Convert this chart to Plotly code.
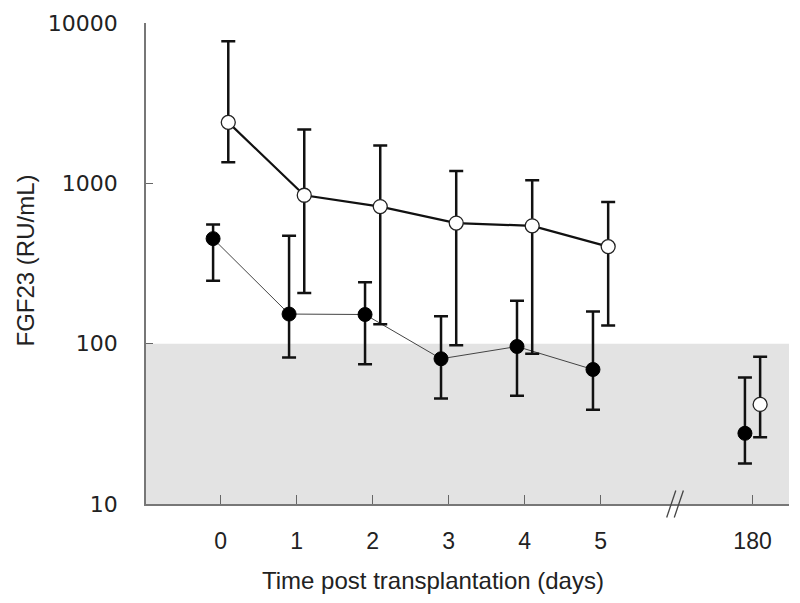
import math
import plotly.graph_objects as go

# ---- data ----
day_labels = ["0", "1", "2", "3", "4", "5", "180"]
positions = [0, 1, 2, 3, 4, 5, 7]  # 180 placed after an axis break

filled_mean = [452, 153, 152, 80.5, 96, 69, 27.6]
filled_upper = [553, 471, 242, 148, 185, 159, 61.5]
filled_lower = [247, 82, 74.5, 45.5, 47.3, 38.7, 17.9]

open_mean = [2400, 843, 716, 565, 543, 403, 41.8]
open_upper = [7700, 2170, 1720, 1192, 1045, 766, 83]
open_lower = [1355, 207, 132, 97.6, 86.5, 130, 26.1]

y_ticks = [10, 100, 1000, 10000]
y_ticktext = ["10", "100", "1000", "10000"]
normal_range = [10, 100]
y_log_range = [1, 4]

OFF = 0.1
fx = [p - OFF for p in positions]
ox = [p + OFF for p in positions]

fig = go.Figure()

# connecting lines (days 0-5 only)
fig.add_trace(go.Scatter(x=fx[:6], y=filled_mean[:6], mode="lines",
                         line=dict(color="#444444", width=1), showlegend=False,
                         hoverinfo="skip"))
fig.add_trace(go.Scatter(x=ox[:6], y=open_mean[:6], mode="lines",
                         line=dict(color="#111111", width=2.2), showlegend=False,
                         hoverinfo="skip"))

# filled markers with error bars
fig.add_trace(go.Scatter(
    x=fx, y=filled_mean, mode="markers",
    marker=dict(color="black", size=14, line=dict(color="black", width=1)),
    error_y=dict(type="data", symmetric=False,
                 array=[u - m for u, m in zip(filled_upper, filled_mean)],
                 arrayminus=[m - l for m, l in zip(filled_mean, filled_lower)],
                 color="#111111", thickness=2.5, width=7),
    showlegend=False))

# open markers with error bars
fig.add_trace(go.Scatter(
    x=ox, y=open_mean, mode="markers",
    marker=dict(color="white", size=14, line=dict(color="#222222", width=1.3)),
    error_y=dict(type="data", symmetric=False,
                 array=[u - m for u, m in zip(open_upper, open_mean)],
                 arrayminus=[m - l for m, l in zip(open_mean, open_lower)],
                 color="#111111", thickness=2.5, width=7),
    showlegend=False))

# normal-range shading (in y-domain fraction of the log axis)
span = y_log_range[1] - y_log_range[0]
fig.add_shape(type="rect", xref="paper", yref="y domain", x0=0, x1=1,
              y0=(math.log10(normal_range[0]) - y_log_range[0]) / span,
              y1=(math.log10(normal_range[1]) - y_log_range[0]) / span,
              fillcolor="#e3e3e3", line=dict(width=0), layer="below")

# axis break marks
for dx in (-0.07, 0.03):
    fig.add_shape(type="line", xref="x", yref="paper",
                  x0=6 + dx - 0.06, x1=6 + dx + 0.06, y0=-0.028, y1=0.028,
                  line=dict(color="#444444", width=1.3))

fig.update_layout(
    width=800, height=603,
    margin=dict(l=146, r=11, t=20, b=99),
    plot_bgcolor="white", paper_bgcolor="white",
    showlegend=False,
)
fig.update_xaxes(
    range=[-0.983, 7.48], tickvals=positions, ticktext=day_labels,
    ticks="inside", ticklen=9, tickcolor="#666666", tickwidth=1,
    showline=True, linecolor="#777777", linewidth=1.5, showgrid=False, zeroline=False,
    tickfont=dict(family="Liberation Sans, Arial", size=23, color="#222222"),
    ticklabelstandoff=16,
)
fig.update_yaxes(
    type="log", range=y_log_range, tickvals=y_ticks, ticktext=y_ticktext,
    ticks="inside", ticklen=7, tickcolor="#666666", tickwidth=1,
    showline=True, linecolor="#777777", linewidth=1.5, showgrid=False, zeroline=False,
    tickfont=dict(family="DejaVu Sans", size=22, color="#222222"),
    ticklabelstandoff=22,
)

fig.add_annotation(text="Time post transplantation (days)", xref="paper", yref="paper",
                   x=(433 - 146) / 643, y=-(581 - 504) / 484, showarrow=False,
                   xanchor="center", yanchor="middle",
                   font=dict(family="Liberation Sans, Arial", size=24, color="#222222"))
fig.add_annotation(text="FGF23 (RU/mL)", xref="paper", yref="paper",
                   x=(26 - 146) / 643, y=(504 - 259) / 484, showarrow=False,
                   textangle=-90, xanchor="center", yanchor="middle",
                   font=dict(family="Liberation Sans, Arial", size=24, color="#222222"))

fig.write_html("out.html", config={"displayModeBar": False},
               post_script="document.body.style.margin='0';document.body.style.overflow='hidden';")
